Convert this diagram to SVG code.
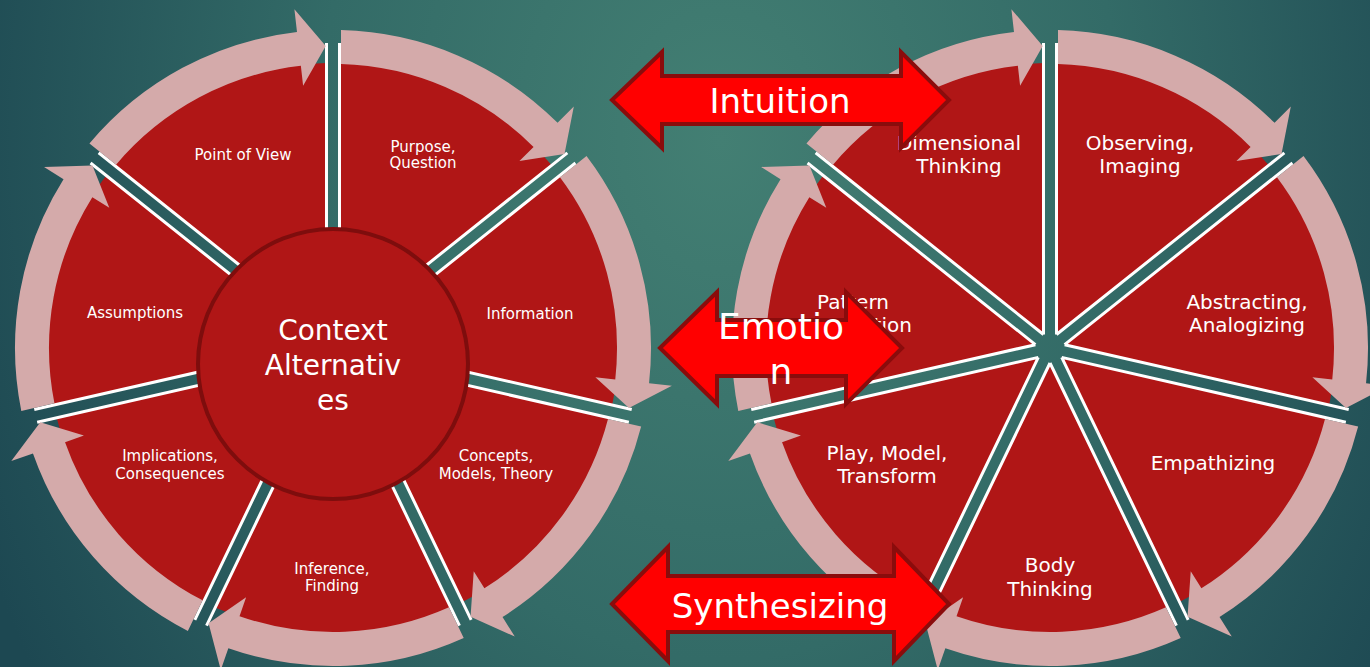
<svg xmlns="http://www.w3.org/2000/svg" width="1370" height="667" viewBox="0 0 1370 667">
  <style>
    .sec { fill: #b01616; }
    .sep { stroke: #ffffff; stroke-width: 3; fill: none; }
    .ring { fill: #d4aaaa; }
    .lbl { font-family: "DejaVu Sans", "Liberation Sans", sans-serif; fill: #ffffff; text-anchor: middle; }
    .s15 { font-size: 15px; }
    .s20 { font-size: 20px; }
    .s28 { font-size: 28px; }
    .s34 { font-size: 34px; }
    .s36 { font-size: 36px; }
    .big { fill: #ff0000; stroke: #8a0c0c; stroke-width: 4; stroke-linejoin: miter; }
    .hub { fill: #b01616; stroke: #7e0d0d; stroke-width: 4; }
  </style>
  <defs>
    <radialGradient id="bg" gradientUnits="userSpaceOnUse" cx="720" cy="140" r="800" gradientTransform="translate(720,140) scale(1,1.3) translate(-720,-140)">
      <stop offset="0" stop-color="#437f73"/>
      <stop offset="0.5" stop-color="#336b67"/>
      <stop offset="1" stop-color="#1d4852"/>
    </radialGradient>
    <g id="wedge">
      <path class="sec" d="M6.5,-13.5 L6.5,-284.93 A285,285 0 0 1 218.72,-182.73 Z"/>
      <path class="sep" d="M6.5,-13.5 L6.5,-304.93 M6.5,-13.5 L234.35,-195.2"/>
    </g>
    <path id="rarrow" class="ring" d="M8,-317.9 A318,318 0 0 1 224.58,-225.14 L240.82,-241.42 L231.51,-193.92 L186.44,-186.91 L200.57,-201.07 A284,284 0 0 0 8,-283.89 Z"/>
  </defs>

  <rect x="0" y="0" width="1370" height="667" fill="url(#bg)"/>

  <!-- Left cycle nodes -->
  <g id="left-purpose">
    <use href="#wedge" transform="translate(333,348) rotate(0)"/>
    <text class="lbl s15" x="423" y="152">Purpose,</text>
    <text class="lbl s15" x="423" y="168">Question</text>
  </g>
  <g id="left-information">
    <use href="#wedge" transform="translate(333,348) rotate(51.4286)"/>
    <text class="lbl s15" x="530" y="319">Information</text>
  </g>
  <g id="left-concepts">
    <use href="#wedge" transform="translate(333,348) rotate(102.8571)"/>
    <text class="lbl s15" x="496" y="461">Concepts,</text>
    <text class="lbl s15" x="496" y="479">Models, Theory</text>
  </g>
  <g id="left-inference">
    <use href="#wedge" transform="translate(333,348) rotate(154.2857)"/>
    <text class="lbl s15" x="332" y="574">Inference,</text>
    <text class="lbl s15" x="332" y="591">Finding</text>
  </g>
  <g id="left-implications">
    <use href="#wedge" transform="translate(333,348) rotate(205.7143)"/>
    <text class="lbl s15" x="170" y="461">Implications,</text>
    <text class="lbl s15" x="170" y="479">Consequences</text>
  </g>
  <g id="left-assumptions">
    <use href="#wedge" transform="translate(333,348) rotate(257.1429)"/>
    <text class="lbl s15" x="135" y="318">Assumptions</text>
  </g>
  <g id="left-point-of-view">
    <use href="#wedge" transform="translate(333,348) rotate(308.5714)"/>
    <text class="lbl s15" x="243" y="160">Point of View</text>
  </g>
  <g id="left-center">
    <circle class="hub" cx="333" cy="364" r="135"/>
    <text class="lbl s28" x="333" y="340">Context</text>
    <text class="lbl s28" x="333" y="375">Alternativ</text>
    <text class="lbl s28" x="333" y="410">es</text>
  </g>

  <!-- Right cycle nodes -->
  <g id="right-observing">
    <use href="#wedge" transform="translate(1050,348) rotate(0)"/>
    <text class="lbl s20" x="1140" y="150">Observing,</text>
    <text class="lbl s20" x="1140" y="173">Imaging</text>
  </g>
  <g id="right-abstracting">
    <use href="#wedge" transform="translate(1050,348) rotate(51.4286)"/>
    <text class="lbl s20" x="1247" y="309">Abstracting,</text>
    <text class="lbl s20" x="1247" y="332">Analogizing</text>
  </g>
  <g id="right-empathizing">
    <use href="#wedge" transform="translate(1050,348) rotate(102.8571)"/>
    <text class="lbl s20" x="1213" y="470">Empathizing</text>
  </g>
  <g id="right-body">
    <use href="#wedge" transform="translate(1050,348) rotate(154.2857)"/>
    <text class="lbl s20" x="1050" y="572">Body</text>
    <text class="lbl s20" x="1050" y="596">Thinking</text>
  </g>
  <g id="right-play">
    <use href="#wedge" transform="translate(1050,348) rotate(205.7143)"/>
    <text class="lbl s20" x="887" y="460">Play, Model,</text>
    <text class="lbl s20" x="887" y="483">Transform</text>
  </g>
  <g id="right-pattern">
    <use href="#wedge" transform="translate(1050,348) rotate(257.1429)"/>
    <text class="lbl s20" x="853" y="309">Pattern</text>
    <text class="lbl s20" x="853" y="332">Recognition</text>
  </g>
  <g id="right-dimensional">
    <use href="#wedge" transform="translate(1050,348) rotate(308.5714)"/>
    <text class="lbl s20" x="959" y="150">Dimensional</text>
    <text class="lbl s20" x="959" y="173">Thinking</text>
  </g>

  <!-- Connectors: circular ring arrows -->
  <g id="connectors">
    <use href="#rarrow" transform="translate(333,348) rotate(0)"/>
    <use href="#rarrow" transform="translate(333,348) rotate(51.4286)"/>
    <use href="#rarrow" transform="translate(333,348) rotate(102.8571)"/>
    <use href="#rarrow" transform="translate(333,348) rotate(154.2857)"/>
    <use href="#rarrow" transform="translate(333,348) rotate(205.7143)"/>
    <use href="#rarrow" transform="translate(333,348) rotate(257.1429)"/>
    <use href="#rarrow" transform="translate(333,348) rotate(308.5714)"/>
    <use href="#rarrow" transform="translate(1050,348) rotate(0)"/>
    <use href="#rarrow" transform="translate(1050,348) rotate(51.4286)"/>
    <use href="#rarrow" transform="translate(1050,348) rotate(102.8571)"/>
    <use href="#rarrow" transform="translate(1050,348) rotate(154.2857)"/>
    <use href="#rarrow" transform="translate(1050,348) rotate(205.7143)"/>
    <use href="#rarrow" transform="translate(1050,348) rotate(257.1429)"/>
    <use href="#rarrow" transform="translate(1050,348) rotate(308.5714)"/>
  </g>

  <!-- Double arrows -->
  <g id="intuition">
    <polygon class="big" points="612,100 662,52 662,76 901,76 901,52 949,100 901,148 901,124 662,124 662,148"/>
    <text class="lbl s34" x="780" y="113">Intuition</text>
  </g>
  <g id="emotion">
    <polygon class="big" points="660,348 717,292 717,320 846,320 846,292 902,348 846,404 846,376 717,376 717,404"/>
    <text class="lbl s36" x="781" y="339">Emotio</text>
    <text class="lbl s36" x="781" y="384">n</text>
  </g>
  <g id="synthesizing">
    <polygon class="big" points="612,604 668,547 668,576 894,576 894,547 949,604 894,661 894,632 668,632 668,661"/>
    <text class="lbl s34" x="780" y="618">Synthesizing</text>
  </g>
</svg>
